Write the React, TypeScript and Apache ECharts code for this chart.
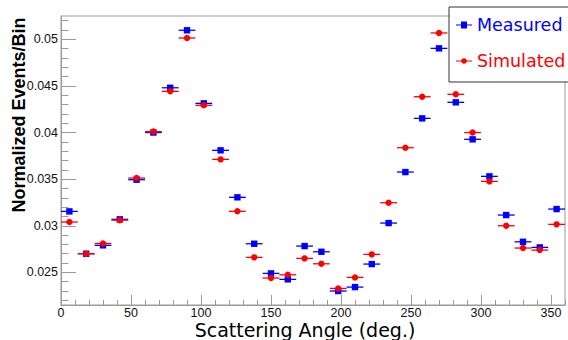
import React, { useEffect, useRef } from "react";
import * as echarts from "echarts";

// Bin centres (degrees), each bin is 12 degrees wide
const binCenters = [6, 18, 30, 42, 54, 66, 78, 90, 102, 114, 126, 138, 150, 162, 174, 186, 198, 210, 222, 234, 246, 258, 270, 282, 294, 306, 318, 330, 342, 354];
const binHalfWidth = 6;

const measured = [0.03154, 0.0270, 0.0279, 0.03069, 0.03494, 0.0400, 0.0448, 0.05097, 0.04313, 0.03809, 0.03305, 0.02807, 0.02489, 0.02425, 0.02782, 0.02721, 0.0230, 0.02342, 0.02589, 0.03029, 0.03576, 0.04152, 0.04903, 0.04324, 0.03927, 0.0353, 0.03115, 0.02828, 0.02768, 0.03179];
const simulated = [0.0304, 0.0270, 0.0281, 0.0306, 0.03512, 0.0401, 0.04442, 0.05014, 0.04292, 0.03712, 0.03155, 0.02661, 0.02439, 0.02474, 0.0265, 0.02592, 0.02328, 0.02446, 0.02693, 0.03247, 0.03837, 0.04384, 0.05068, 0.0441, 0.0400, 0.03476, 0.0300, 0.02761, 0.02739, 0.03015];

const xMajorTicks = [0, 50, 100, 150, 200, 250, 300, 350];
const xMinorTicks = [0, 10, 20, 30, 40, 50, 60, 70, 80, 90, 100, 110, 120, 130, 140, 150, 160, 170, 180, 190, 200, 210, 220, 230, 240, 250, 260, 270, 280, 290, 300, 310, 320, 330, 340, 350, 360];
const yMajorTicks = [0.025, 0.03, 0.035, 0.04, 0.045, 0.05];
const yMinorTicks = [0.022, 0.023, 0.024, 0.025, 0.026, 0.027, 0.028, 0.029, 0.03, 0.031, 0.032, 0.033, 0.034, 0.035, 0.036, 0.037, 0.038, 0.039, 0.04, 0.041, 0.042, 0.043, 0.044, 0.045, 0.046, 0.047, 0.048, 0.049, 0.05, 0.051, 0.052];
const yMajorLabels = ["0.025", "0.03", "0.035", "0.04", "0.045", "0.05"];

const X_MIN = 0, X_MAX = 360, Y_MIN = 0.0215, Y_MAX = 0.0525;
const BLUE = "#0000ff";
const RED = "#ff0000";
const AXIS_GRAY = "#9a9a9a";

const squareIcon = "path://M0,3.4H5V0.5H11V3.4H16V4.6H11V7.5H5V4.6H0Z";
const circleIcon = "path://M0,3.4H5.1A3,3 0 0,1 10.9,3.4H16V4.6H10.9A3,3 0 0,1 5.1,4.6H0Z";

function makeRender(color: string, shape: "square" | "circle") {
  return (params: any, api: any) => {
    const x = api.value(0);
    const y = api.value(1);
    const p1 = api.coord([x - binHalfWidth, y]);
    const p2 = api.coord([x + binHalfWidth, y]);
    const c = api.coord([x, y]);
    const s = 3.2;
    const marker =
      shape === "square"
        ? { type: "rect", shape: { x: c[0] - s, y: c[1] - s, width: 2 * s, height: 2 * s }, style: { fill: color } }
        : { type: "circle", shape: { cx: c[0], cy: c[1], r: s }, style: { fill: color } };
    return {
      type: "group",
      children: [
        { type: "line", shape: { x1: p1[0], y1: p1[1], x2: p2[0], y2: p2[1] }, style: { stroke: color, lineWidth: 1.3 } },
        marker,
      ],
    };
  };
}

export default function App() {
  const ref = useRef<HTMLDivElement>(null);
  useEffect(() => {
    if (!ref.current) return;
    const chart = echarts.init(ref.current, undefined, { renderer: "svg" });
    const labelStyle = { fontFamily: "Liberation Sans", fontSize: 12.5, lineHeight: 12, color: "#111" };
    chart.setOption({
      animation: false,
      backgroundColor: "#fff",
      grid: {
        left: 61, right: 3, top: 16, bottom: 35,
        containLabel: false, outerBoundsMode: "none",
        show: true, borderColor: AXIS_GRAY, borderWidth: 1,
      },
      legend: {
        orient: "vertical",
        left: 449,
        top: 7,
        padding: [8, 20, 11, 7],
        itemGap: 16,
        itemWidth: 16,
        itemHeight: 8,
        backgroundColor: "#fff",
        borderColor: "#333",
        borderWidth: 1,
        textStyle: { fontFamily: "DejaVu Sans", fontSize: 17.5, lineHeight: 20 },
        data: [
          { name: "Measured", icon: squareIcon, itemStyle: { color: BLUE }, textStyle: { color: BLUE } },
          { name: "Simulated", icon: circleIcon, itemStyle: { color: RED }, textStyle: { color: RED } },
        ],
      },
      xAxis: [
        {
          type: "value",
          position: "bottom",
          min: X_MIN,
          max: X_MAX,
          name: "Scattering Angle (deg.)",
          nameLocation: "middle",
          nameGap: 15.5,
          nameMoveOverlap: false,
          nameTextStyle: { fontFamily: "DejaVu Sans", fontSize: 19, lineHeight: 19, color: "#000", padding: [0, 16, 0, 0] },
          axisLine: { show: true, lineStyle: { color: AXIS_GRAY } },
          axisTick: { show: true, inside: true, length: 10, customValues: xMajorTicks, lineStyle: { color: AXIS_GRAY } },
          axisLabel: { ...labelStyle, margin: 1.5, customValues: xMajorTicks },
          splitLine: { show: false },
        },
        {
          type: "value",
          position: "bottom",
          min: X_MIN,
          max: X_MAX,
          axisLine: { show: false },
          axisTick: { show: true, inside: true, length: 5, customValues: xMinorTicks, lineStyle: { color: AXIS_GRAY } },
          axisLabel: { show: false },
          splitLine: { show: false },
        },
      ],
      yAxis: [
        {
          type: "value",
          position: "left",
          min: Y_MIN,
          max: Y_MAX,
          name: "Normalized Events/Bin",
          nameLocation: "middle",
          nameGap: 33,
          nameMoveOverlap: false,
          nameRotate: 90,
          nameTextStyle: { fontFamily: "Liberation Sans", fontWeight: "bold", fontSize: 18, color: "#000", padding: [0, 0, 0, 91] },
          axisLine: { show: true, lineStyle: { color: AXIS_GRAY } },
          axisTick: { show: true, inside: true, length: 15, customValues: yMajorTicks, lineStyle: { color: AXIS_GRAY } },
          axisLabel: {
            ...labelStyle,
            margin: 3,
            customValues: yMajorTicks,
            formatter: (v: number) => {
              const i = yMajorTicks.findIndex((t) => Math.abs(t - v) < 1e-9);
              return i >= 0 ? yMajorLabels[i] : "";
            },
          },
          splitLine: { show: false },
        },
        {
          type: "value",
          position: "left",
          min: Y_MIN,
          max: Y_MAX,
          axisLine: { show: false },
          axisTick: { show: true, inside: true, length: 7.5, customValues: yMinorTicks, lineStyle: { color: AXIS_GRAY } },
          axisLabel: { show: false },
          splitLine: { show: false },
        },
      ],
      series: [
        {
          name: "Measured",
          type: "custom",
          xAxisIndex: 0,
          yAxisIndex: 0,
          itemStyle: { color: BLUE },
          renderItem: makeRender(BLUE, "square"),
          data: binCenters.map((x, i) => [x, measured[i]]),
          z: 2,
        },
        {
          name: "Simulated",
          type: "custom",
          xAxisIndex: 0,
          yAxisIndex: 0,
          itemStyle: { color: RED },
          renderItem: makeRender(RED, "circle"),
          data: binCenters.map((x, i) => [x, simulated[i]]),
          z: 3,
        },
      ],
    });
    return () => chart.dispose();
  }, []);
  return <div ref={ref} style={{ position: "fixed", left: 0, top: 0, width: 568, height: 340 }} />;
}
